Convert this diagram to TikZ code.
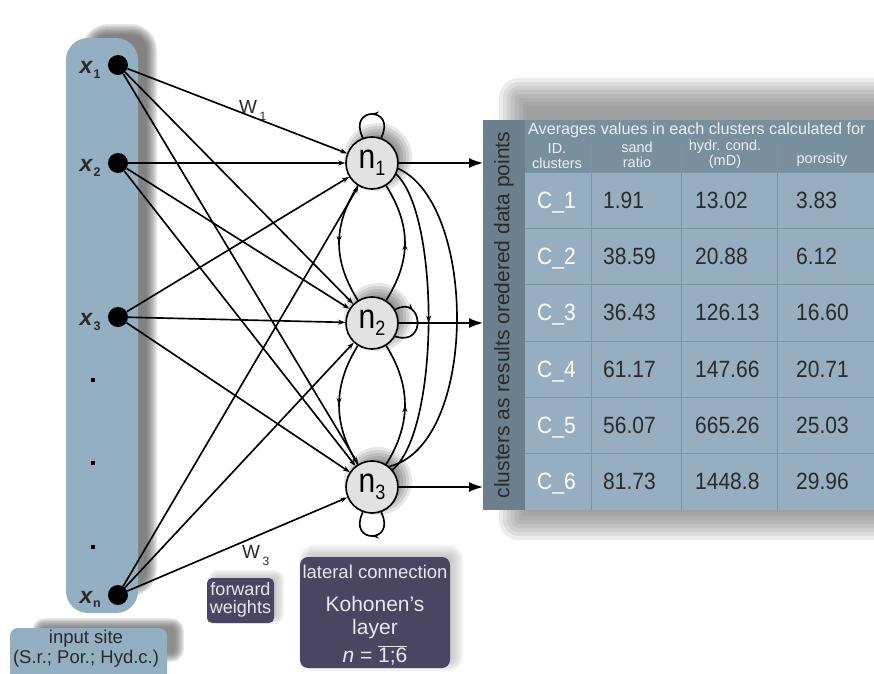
\documentclass[tikz,border=0pt]{standalone}
\usepackage{fontspec}
\setmainfont{Liberation Sans}
\usetikzlibrary{arrows.meta,decorations.markings,calc}

\definecolor{inblue}{RGB}{148,174,194}
\definecolor{tabbody}{RGB}{150,174,192}
\definecolor{tabhead}{RGB}{122,143,158}
\definecolor{tabside}{RGB}{108,127,140}
\definecolor{tabgrid}{RGB}{124,147,164}
\definecolor{darkbox}{RGB}{74,70,98}
\definecolor{boxtext}{RGB}{232,232,240}
\definecolor{nodegray}{RGB}{226,226,226}
\definecolor{inktext}{RGB}{42,42,42}
\definecolor{headtext}{RGB}{236,240,243}

\newcommand\fsz[2]{\fontsize{#1}{#2}\selectfont}
\newcommand\tall[1]{\scalebox{1}[1.12]{#1}}

% soft rectangular shadow: x1, ytop, x2, ybottom, colour, spread, corner radius
\newcommand\softshadow[7]{%
  \foreach \k in {0,...,7}{%
    \pgfmathsetmacro\dd{#6*(1-\k/4)}%
    \pgfmathsetmacro\rr{max(#7+\dd,1)}%
    \fill[#5, opacity=0.13, rounded corners=\rr pt]
      ({#1-(\dd)},{#2+(\dd)}) rectangle ({#3+(\dd)},{#4-(\dd)});
  }}

% soft round glow behind a neuron
\newcommand\glow[2]{%
  \foreach \k in {0,...,7}{%
    \pgfmathsetmacro\rad{34-3*\k}%
    \fill[black, opacity=0.095] ({#1+6},{#2+6}) circle (\rad pt);
  }}

\tikzset{
  wire/.style={line width=1.65pt, black},
  fwd/.style={wire, -{Stealth[length=7pt,width=5pt]}},
  outarrow/.style={wire, -{Latex[length=14pt,width=10pt]}},
  midarrow/.style={postaction={decorate},
    decoration={markings, mark=at position #1 with {\arrow{Stealth[length=7pt,width=5pt]}}}},
  neuron/.style={circle, draw, line width=1.65pt, fill=nodegray,
    minimum size=52pt, inner sep=0pt},
  inputdot/.style={circle, fill=black, minimum size=20pt, inner sep=0pt},
  cellnum/.style={anchor=base west, inner sep=0pt, text=inktext, font=\fsz{21}{21}},
  cellid/.style={anchor=base west, inner sep=0pt, text=white, font=\fsz{21}{21}},
  colhead/.style={align=center, inner sep=0pt, text=headtext, font=\fsz{14.5}{15}},
  boxlabel/.style={inner sep=0pt, text=boxtext},
}

\newcommand\nlabel[1]{\scalebox{1}[1.15]{{\fsz{30}{30}n}\raisebox{-6pt}{\fsz{18}{18}#1}}}

\begin{document}
\begin{tikzpicture}[x=1pt,y=1pt]
\useasboundingbox (0,0) rectangle (874,-673);
\fill[white] (0,0) rectangle (874,-673);

% ---------- shadows ----------
\softshadow{88}{-30}{151}{-590}{black!72}{6}{20}
\softshadow{37}{-623}{179}{-657}{black!65}{5}{8}
\softshadow{515}{-94}{900}{-524}{black!55}{16}{4}
\softshadow{213}{-575}{279}{-619}{black!30}{5}{5}
\softshadow{306}{-552}{456}{-664}{black!30}{7}{8}

% ---------- input column ----------
\fill[inblue, rounded corners=22pt] (66,-38) rectangle (138,-613);
\fill[inblue, rounded corners=8pt] (10,-628) rectangle (167,-700);
\node[inner sep=0pt, text=inktext, font=\fsz{18.5}{18.5}] (insite1) at (86,-639) {input site};
\node[inner sep=0pt, text=inktext, font=\fsz{18.5}{18.5}] (insite2) at (86,-659) {(S.r.; Por.; Hyd.c.)};

% ---------- result table ----------
\fill[tabbody] (483,-172) rectangle (874,-510);
\fill[tabhead] (483,-120) rectangle (874,-172);
\fill[tabside] (483,-120) rectangle (525,-510);
\foreach \yy in {172,228.33,284.67,341,397.33,453.67}
  \draw[tabgrid, line width=0.8pt] (525,-\yy) -- (874,-\yy);
\foreach \xx in {591,681,777}
  \draw[tabgrid, line width=0.8pt] (\xx,-140) -- (\xx,-510);

\node[rotate=90, inner sep=0pt, text=inktext, font=\fsz{21}{21}] (sidetxt) at (504,-315)
  {clusters as results oredered data points};
\node[anchor=west, inner sep=0pt, text=headtext, font=\fsz{16.2}{16.2}] (title) at (528,-130)
  {Averages values in each clusters calculated for};
\node[colhead] (h1) at (557,-156) {ID.\\clusters};
\node[colhead] (h2) at (637,-155) {sand\\ratio};
\node[colhead] (h3) at (725,-154) {hydr. cond.\\(mD)};
\node[colhead] (h4) at (822,-160) {porosity};

\foreach \r/\id/\a/\b/\c [count=\i] in
  {200.2/C\_1/1.91/13.02/3.83,
   256.5/C\_2/38.59/20.88/6.12,
   312.8/C\_3/36.43/126.13/16.60,
   369.2/C\_4/61.17/147.66/20.71,
   425.5/C\_5/56.07/665.26/25.03,
   481.8/C\_6/81.73/1448.8/29.96}{
  \node[cellid]  (id\i) at (537,-\r-8) {\tall{\id}};
  \node[cellnum] (sr\i) at (603,-\r-8) {\tall{\a}};
  \node[cellnum] (hc\i) at (695,-\r-8) {\tall{\b}};
  \node[cellnum] (po\i) at (796,-\r-8) {\tall{\c}};
}

% ---------- Kohonen layer ----------
\glow{372}{-163}
\glow{372}{-323}
\glow{372}{-487}

\node[inputdot] (x1) at (118,-65) {};
\node[inputdot] (x2) at (118,-163) {};
\node[inputdot] (x3) at (118,-317) {};
\node[inputdot] (xn) at (118,-595) {};

\node[neuron] (n1) at (372,-163) {\nlabel{1}};
\node[neuron] (n2) at (372,-323) {\nlabel{2}};
\node[neuron] (n3) at (372,-487) {\nlabel{3}};

% ellipsis dots between x3 and xn
\foreach \yy in {380,463,547}
  \fill (91,-\yy+2) rectangle (95,-\yy-2);

% input labels
\foreach \nd/\yy/\sub in {x1/65/1, x2/163/2, x3/317/3, xn/595/n}{
  \node[inner sep=0pt, text=inktext, font=\fsz{23}{23}\bfseries\itshape] (lab\nd) at (86,-\yy-2.5) {x};
  \node[inner sep=0pt, text=inktext, font=\fsz{12.5}{12.5}\bfseries] (sub\nd) at (97,-\yy-9.5) {\sub};
}

% forward weights
\foreach \s in {x1,x2,x3,xn}
  \foreach \t in {n1,n2,n3}
    \draw[fwd] (\s) -- (\t);

% outputs to the table
\coordinate (t1) at (483,-163);
\coordinate (t2) at (483,-323);
\coordinate (t3) at (483,-487);
\draw[outarrow] (n1) -- (t1);
\draw[outarrow] (n2) -- (t2);
\draw[outarrow] (n3) -- (t3);

% lateral connections
\draw[wire, midarrow=0.5] (n1.238) .. controls +(-25,-40) and +(-25,40) .. (n2.122);
\draw[wire, midarrow=0.5] (n2.58) .. controls +(25,40) and +(25,-40) .. (n1.302);
\draw[wire, midarrow=0.5] (n2.238) .. controls +(-25,-40) and +(-25,40) .. (n3.122);
\draw[wire, midarrow=0.5] (n3.58) .. controls +(25,40) and +(25,-40) .. (n2.302);
\draw[wire, midarrow=0.5] (n1.-25) .. controls (440,-215) and (440,-430) .. (n3.40);
\draw[wire] (n1.-12) .. controls (478,-205) and (478,-445) .. (n3.50);

% self loops
\draw[wire, midarrow=0.5] (n1.70) .. controls (397,-106) and (347,-106) .. (n1.110);
\draw[wire, midarrow=0.3] (n2.30) .. controls (422,-294) and (428,-347) .. (n2.-30);
\draw[wire, midarrow=0.5] (n3.-70) .. controls (397,-544) and (347,-544) .. (n3.-110);

% weight labels
\node[anchor=base, inner sep=0pt, text=inktext, font=\fsz{19}{19}] (w1) at (248,-113) {W};
\node[anchor=base, inner sep=0pt, text=inktext, font=\fsz{12}{12}] (w1s) at (263,-120) {1};
\node[anchor=base, inner sep=0pt, text=inktext, font=\fsz{19}{19}] (w3) at (251,-558) {W};
\node[anchor=base, inner sep=0pt, text=inktext, font=\fsz{12}{12}] (w3s) at (266,-565) {3};

% caption boxes
\fill[darkbox, rounded corners=5pt] (207,-578) rectangle (274,-623);
\node[boxlabel, font=\fsz{18}{18}] (fw1) at (240.5,-589) {forward};
\node[boxlabel, font=\fsz{18}{18}] (fw2) at (240.5,-609) {weights};

\fill[darkbox, rounded corners=8pt] (300,-557) rectangle (450,-668);
\node[boxlabel, font=\fsz{18.5}{18.5}] (k1) at (375,-572) {lateral connection};
\node[boxlabel, font=\fsz{21}{21}] (k2) at (375,-604) {Kohonen's};
\node[boxlabel, font=\fsz{21}{21}] (k3) at (375,-629) {layer};
\node[boxlabel, font=\fsz{21}{21}] (k4) at (375,-655) {\itshape n\upshape\ = $\overline{\hbox{1;6}}$};
\end{tikzpicture}
\end{document}
